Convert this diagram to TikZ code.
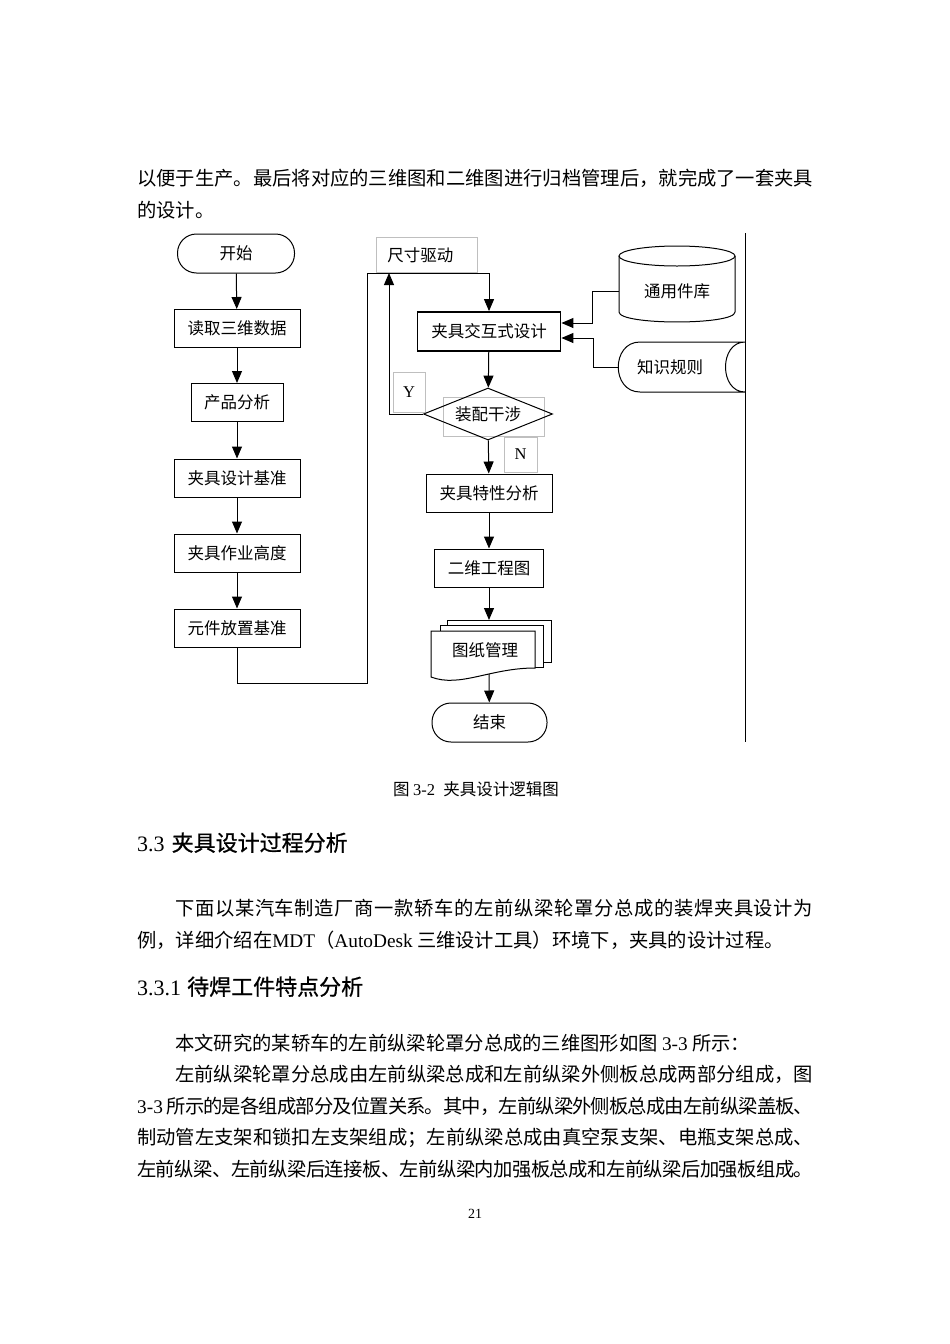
\documentclass[tikz,border=0pt]{standalone}
\usepackage{fontspec}
\setmainfont{Noto Sans CJK SC}
\newfontfamily\hei[FakeBold=0.8]{Noto Sans CJK SC}
\newfontfamily\tnr{Liberation Serif}
\usetikzlibrary{shapes.geometric, arrows.meta, positioning, calc}
% glue between CJK characters, so full lines can be spread
\XeTeXinterchartokenstate=1
\newXeTeXintercharclass\cjkcls
\newcount\cjkc
\cjkc="3000 \loop \XeTeXcharclass\cjkc=\cjkcls \advance\cjkc by 1 \ifnum\cjkc<"3040 \repeat
\cjkc="4E00 \loop \XeTeXcharclass\cjkc=\cjkcls \advance\cjkc by 1 \ifnum\cjkc<"A000 \repeat
\cjkc="FF00 \loop \XeTeXcharclass\cjkc=\cjkcls \advance\cjkc by 1 \ifnum\cjkc<"FFF0 \repeat
\XeTeXinterchartoks\cjkcls\cjkcls={\hskip 0pt plus 1pt minus 2pt\relax}
\newcommand{\fullline}[2]{\makebox[#1pt][s]{#2}}

\begin{document}
\begin{tikzpicture}[x=1pt, y=-1pt,
  box/.style={draw, line width=1pt, minimum height=38pt, inner sep=0pt, font=\fontsize{16.5}{16.5}\selectfont},
  term/.style={box, rounded corners=19pt},
  tag/.style={draw=black!25, line width=0.7pt, inner sep=0pt, font=\fontsize{16.5}{16.5}\selectfont},
  tagline/.style={draw=black!25, line width=0.7pt},
  wire/.style={line width=1pt},
  flow/.style={wire, -{Triangle[length=12pt,width=10pt]}},
  body/.style={anchor=base west, inner sep=0pt, font=\fontsize{19.3}{23}\selectfont},
  heading/.style={anchor=base west, inner sep=0pt, font=\fontsize{22}{26}\selectfont},
  capt/.style={anchor=base, inner sep=0pt, font=\fontsize{16.5}{18}\selectfont}]
\fill[white] (0,0) rectangle (950,1344);
\useasboundingbox (0,0) rectangle (950,1344);

% text above the chart
\node[body] (p1) at (137,185) {\fullline{676}{以便于生产。最后将对应的三维图和二维图进行归档管理后，就完成了一套夹具}};
\node[body] (p2) at (137,217) {的设计。};

% left column
\node[term, minimum width=117pt, minimum height=39pt] (start) at (236,253.5) {开始};
\node[box, minimum width=126pt] (read) at (237,328.5) {读取三维数据};
\node[box, minimum width=92pt] (prod) at (237,402.5) {产品分析};
\node[box, minimum width=126pt] (datum) at (237,478) {夹具设计基准};
\node[box, minimum width=126pt] (work) at (237,553) {夹具作业高度};
\node[box, minimum width=126pt] (place) at (237,628) {元件放置基准};
\foreach \a/\b in {start/read, read/prod, prod/datum, datum/work, work/place}
  \draw[flow] (\a) -- (\b);

% labels (text boxes)
\node[tag, anchor=north west, minimum height=35pt, text width=79pt, inner xsep=11pt, align=left] (dim) at (376,237) {尺寸驱动};
\node[tag, minimum width=32pt, minimum height=40pt] (yes) at (409,392) {\tnr Y};
\node[tag, minimum width=33pt, minimum height=35pt] (no) at (520.5,454.5) {\tnr N};
\draw[tagline] (443,397) rectangle (544,436);

% right column
\node[box, line width=1.8pt, minimum width=143pt, minimum height=39pt] (design) at (489,331.5) {夹具交互式设计};
\node[diamond, draw, line width=1pt, aspect=2.5, inner sep=0pt, minimum width=129pt, minimum height=52pt, font=\fontsize{16.5}{16.5}\selectfont] (chk) at (488,414) {装配干涉};
\node[box, minimum width=126pt] (feat) at (489,493) {夹具特性分析};
\node[box, minimum width=109pt] (plan) at (489,568) {二维工程图};
\node[term, minimum width=115pt, minimum height=39pt] (finish) at (489.5,722.5) {结束};
\foreach \a/\b in {design/chk, chk/feat, feat/plan}
  \draw[flow] (\a) -- (\b);

% multi document
\draw[wire, fill=white] (447,620) rectangle (551,662);
\draw[wire, fill=white] (440,625) rectangle (543,667);
\draw[wire, fill=white] (431,631) -- (535,631) -- (535,668) .. controls (490,668) and (460,688) .. (431,677) -- cycle;
\node[font=\fontsize{16.5}{16.5}\selectfont] (docs) at (485,650) {图纸管理};
\coordinate (docin) at (489,620);
\coordinate (docout) at (489,674);
\draw[flow] (plan) -- (docin);
\draw[flow] (docout) -- (finish);

% loop back
\coordinate (loopbot) at (367,683);
\coordinate (looptop) at (367,273);
\draw[flow] (place.south) |- (loopbot) -- (looptop) -| (design.north);
\draw[flow] (chk.west) -| ($(looptop)+(22,0)$);

% library and rules
\draw[wire] (619,256) -- (619,312) .. controls (619,325.3) and (735,325.3) .. (735,312) -- (735,256);
\draw[wire] (677,256) ellipse (58 and 10);
\node[minimum width=116pt, inner sep=0pt, font=\fontsize{16.5}{16.5}\selectfont] (lib) at (677,291) {通用件库};
\draw[wire] (640,342) -- (745,342) .. controls (719,342) and (719,392) .. (745,392) -- (640,392) .. controls (611,392) and (611,342) .. (640,342) -- cycle;
\node[anchor=west, inner xsep=19pt, minimum height=50pt, font=\fontsize{16.5}{16.5}\selectfont] (rule) at (618,367) {知识规则};
\draw[flow] (lib.west) -- ++(-26,0) |- ($(design.east)+(0,-8.5)$);
\draw[flow] (rule.west) -- ++(-25,0) |- ($(design.east)+(0,6.5)$);
\draw[wire] (745,233) -- (745,742);

% caption and text below
\node[capt] (cap) at (476,795) {图 {\tnr 3-2}\enspace 夹具设计逻辑图};
\node[heading] (h1) at (137,851) {{\tnr 3.3}\hspace{7pt}{\hei 夹具设计过程分析}};
\node[body] (q1) at (175,915) {\fullline{638}{下面以某汽车制造厂商一款轿车的左前纵梁轮罩分总成的装焊夹具设计为}};
\node[body] (q2) at (137,947) {例，详细介绍在{\tnr MDT}（{\tnr AutoDesk} 三维设计工具）环境下，夹具的设计过程。};
\node[heading] (h2) at (137,995) {{\tnr 3.3.1}\hspace{6pt}{\hei 待焊工件特点分析}};
\node[body] (r1) at (175,1050) {本文研究的某轿车的左前纵梁轮罩分总成的三维图形如图 {\tnr 3-3} 所示：};
\node[body] (r2) at (175,1081) {\fullline{638}{左前纵梁轮罩分总成由左前纵梁总成和左前纵梁外侧板总成两部分组成，图}};
\node[body] (r3) at (137,1113) {\fullline{676}{{\tnr 3-3} 所示的是各组成部分及位置关系。其中，左前纵梁外侧板总成由左前纵梁盖板、}};
\node[body] (r4) at (137,1144) {\fullline{676}{制动管左支架和锁扣左支架组成；左前纵梁总成由真空泵支架、电瓶支架总成、}};
\node[body] (r5) at (137,1176) {\fullline{676}{左前纵梁、左前纵梁后连接板、左前纵梁内加强板总成和左前纵梁后加强板组成。}};
\node[anchor=base, inner sep=0pt, font=\tnr\fontsize{14}{16}\selectfont] (pg) at (475,1218) {21};
\end{tikzpicture}
\end{document}
